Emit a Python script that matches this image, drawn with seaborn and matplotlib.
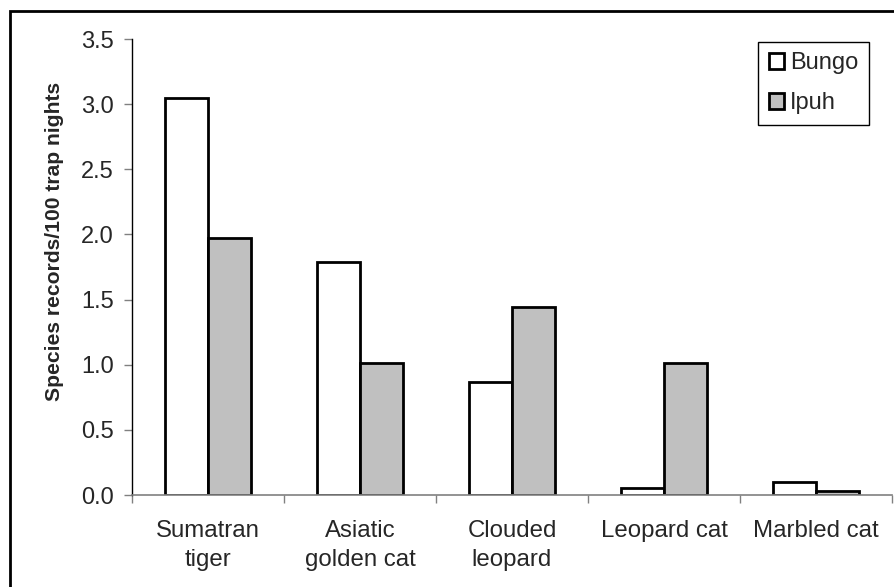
import matplotlib
matplotlib.use("Agg")
import matplotlib.pyplot as plt
import matplotlib.patches as mpatches
import seaborn as sns
import pandas as pd
import numpy as np

categories = ["Sumatran\ntiger", "Asiatic\ngolden cat", "Clouded\nleopard", "Leopard cat", "Marbled cat"]
sites = ["Bungo", "Ipuh"]
bungo = [3.05, 1.79, 0.87, 0.05, 0.10]
ipuh = [1.97, 1.01, 1.44, 1.01, 0.03]
yticks = [0.0, 0.5, 1.0, 1.5, 2.0, 2.5, 3.0, 3.5]
ylabel = "Species records/100 trap nights"

df = pd.DataFrame({
    "category": categories * 2,
    "site": [sites[0]] * len(categories) + [sites[1]] * len(categories),
    "value": bungo + ipuh,
})

sns.set_style("white")
plt.rcParams["font.family"] = ["Liberation Sans", "DejaVu Sans"]

fig = plt.figure(figsize=(8.95, 5.87), dpi=100)
ax = fig.add_axes([132 / 895, 1 - 495 / 587, (892 - 132) / 895, (495 - 39) / 587])

sns.barplot(data=df, x="category", y="value", hue="site", order=categories,
            hue_order=sites, palette=["#FFFFFF", "#C0C0C0"], width=0.57,
            edgecolor="black", linewidth=2.0, saturation=1, ax=ax, legend=True)

ax.set_xlim(-0.5, len(categories) - 0.5)
ax.set_ylim(0, 3.5)
ax.set_yticks(yticks)
ax.set_yticklabels([f"{v:.1f}" for v in yticks], fontsize=17)

# category boundaries as major ticks, labels on minor ticks at centres
ax.set_xticks(np.arange(-0.5, len(categories), 1.0))
ax.set_xticklabels([])
ax.set_xticks(np.arange(len(categories)), minor=True)
ax.set_xticklabels(categories, minor=True, fontsize=17.3, linespacing=1.4)
ax.tick_params(axis="x", which="major", direction="out", length=6, width=1, color="#808080", bottom=True)
ax.tick_params(axis="x", which="minor", length=0, pad=18)
ax.tick_params(axis="y", direction="out", length=6, width=1, color="#808080", left=True, pad=7)

for s in ["top", "right"]:
    ax.spines[s].set_visible(False)
ax.spines["left"].set_color("black")
ax.spines["left"].set_linewidth(1)
ax.spines["bottom"].set_color("#808080")
ax.spines["bottom"].set_linewidth(1.2)

ax.set_xlabel("")
ax.set_ylabel(ylabel, fontsize=15.2, fontweight="bold")
ax.yaxis.set_label_coords(-0.09, 0.557)

leg = ax.legend(loc="upper right", bbox_to_anchor=(0.97, 0.994), fontsize=17,
                frameon=True, fancybox=False, edgecolor="black", framealpha=1,
                handlelength=0.65, handleheight=0.65, handletextpad=0.25,
                labelspacing=0.75, borderpad=0.45, borderaxespad=0)
leg.get_frame().set_linewidth(1)
for h in leg.legend_handles:
    h.set_edgecolor("black")
    h.set_linewidth(2.0)

border = mpatches.Rectangle((10 / 895, -0.1), 1.2, 1 - 11 / 587 + 0.1,
                            transform=fig.transFigure, fill=False,
                            edgecolor="black", linewidth=2, clip_on=False)
fig.patches.append(border)

fig.savefig("out.png", dpi=100)
